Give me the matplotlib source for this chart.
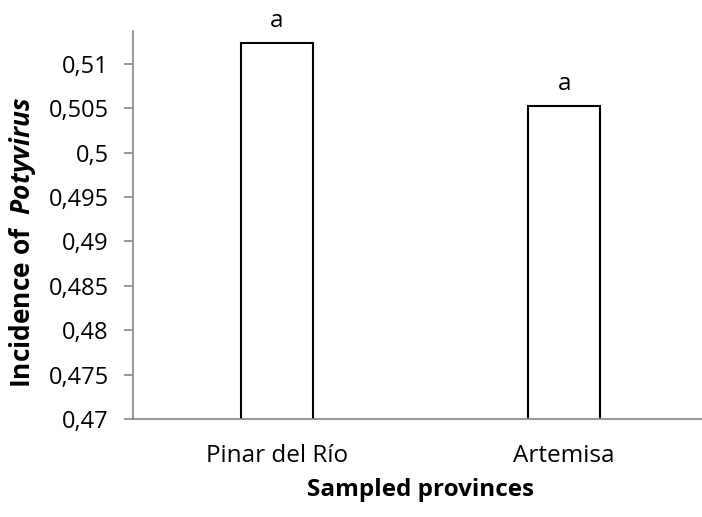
import matplotlib
matplotlib.use('Agg')
import matplotlib.pyplot as plt
from matplotlib.ticker import FuncFormatter
import numpy as np

provinces = ['Pinar del Río', 'Artemisa']
incidence = [0.5123, 0.5052]
letters = ['a', 'a']
y_ticks = [0.47, 0.475, 0.48, 0.485, 0.49, 0.495, 0.5, 0.505, 0.51]

plt.rcParams['font.family'] = ['Open Sans', 'DejaVu Sans']
plt.rcParams['mathtext.fontset'] = 'custom'
plt.rcParams['mathtext.bfit'] = 'Open Sans:italic:bold'
plt.rcParams['mathtext.rm'] = 'Open Sans'

fig = plt.figure(figsize=(7.02, 5.17), dpi=100)
ax = fig.add_axes([0.1895, 0.1896, 0.819, 0.7504])

x_pos = np.arange(len(provinces))
bars = ax.bar(x_pos, incidence, width=0.25, color='white', edgecolor='black', linewidth=1.5)

# significance letters above bars
for xp, val, lt in zip(x_pos, incidence, letters):
    ax.text(xp, val + 0.0012, lt, ha='center', va='bottom', fontsize=17.5)

ax.set_xlim(-0.5, 1.5)
ax.set_ylim(0.47, 0.5137)
ax.set_yticks(y_ticks)
ax.yaxis.set_major_formatter(FuncFormatter(lambda v, p: ('%g' % v).replace('.', ',')))
ax.set_xticks(x_pos)
ax.set_xticklabels(provinces)

for s in ['top', 'right']:
    ax.spines[s].set_visible(False)
for s in ['left', 'bottom']:
    ax.spines[s].set_color('#868686')
    ax.spines[s].set_linewidth(1.2)

ax.tick_params(axis='y', direction='out', length=6.5, width=1.2, color='#868686', labelsize=17, pad=11)
ax.tick_params(axis='x', length=0, labelsize=17.5, pad=18)

ax.set_xlabel('Sampled provinces', fontsize=17.5, fontweight='bold', labelpad=7)
ax.set_ylabel('Incidence of  $\\mathbfit{Potyvirus}$', fontsize=19, fontweight='bold')
ax.yaxis.set_label_coords(-0.166, 0.455)

fig.savefig('out.png', dpi=100)
